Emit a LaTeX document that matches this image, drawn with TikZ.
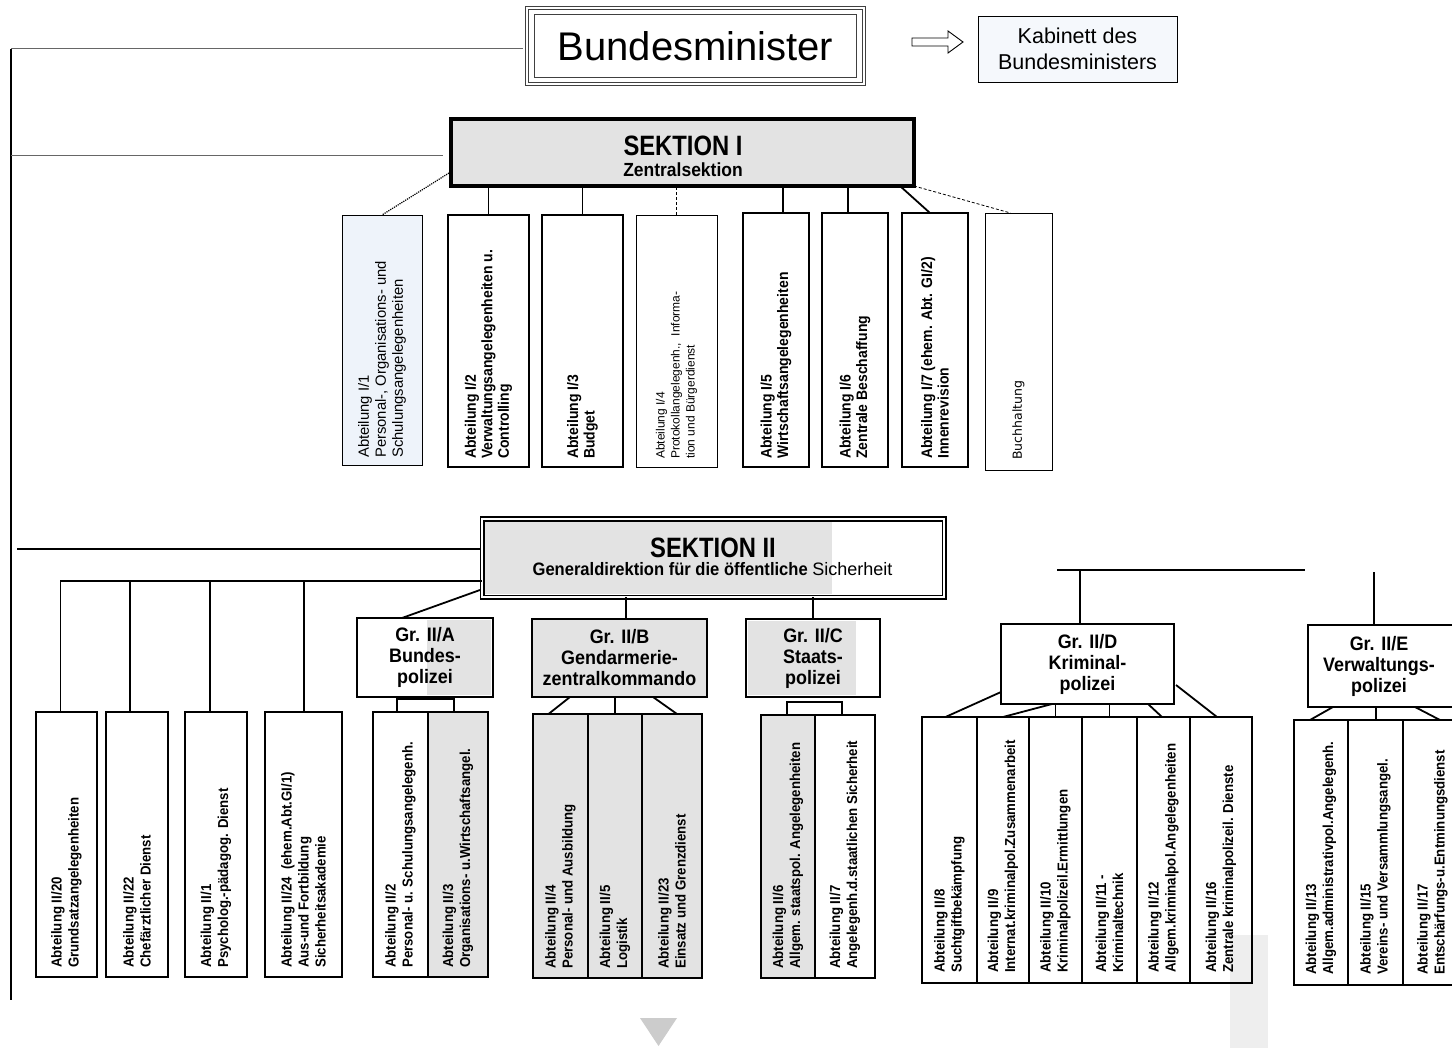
\documentclass[tikz,border=0pt]{standalone}
\usepackage{fontspec}
\setmainfont{Liberation Sans}
\newfontfamily\condsans[FakeStretch=0.92]{Liberation Sans}
\newfontfamily\headsans[FakeStretch=0.85]{Liberation Sans}
\newfontfamily\dejavu{DejaVu Sans}
\usetikzlibrary{calc}
\definecolor{paleblue}{HTML}{EEF3FA}
\definecolor{palecab}{HTML}{F5F8FC}
\definecolor{scan}{HTML}{E3E3E3}
\definecolor{barcolor}{HTML}{EEEEEE}
\definecolor{markcolor}{HTML}{CCCCCC}
% box with its top-left corner at (x1,y1) and bottom-right corner at (x2,y2)
\newcommand\orgbox[6]{\node[#2, minimum width={(#5-#3)*1pt}, minimum height={(#6-#4)*1pt}] (#1) at (#3,#4) {};}
\begin{document}
\begin{tikzpicture}[x=1pt,y=-1pt,
  box/.style={draw, inner sep=0pt, outer sep=0pt, anchor=north west},
  heavybox/.style={box, line width=2.4pt},
  unitbox/.style={box, line width=1.8pt},
  thinbox/.style={box, line width=0.9pt},
  vlab/.style={rotate=90, anchor=west, align=left, inner sep=0pt},
  toplab/.style={vlab, font=\condsans\bfseries\fontsize{15.2}{16.5}\selectfont},
  topreg/.style={vlab, font=\fontsize{14.8}{17}\selectfont},
  botlab/.style={vlab, font=\condsans\bfseries\fontsize{14.4}{17}\selectfont},
  grlab/.style={align=center, inner sep=0pt, font=\condsans\bfseries\fontsize{19.5}{21}\selectfont},
  conn/.style={line width=1.8pt},
  frame/.style={line width=1pt, black!60}]

\useasboundingbox (0,0) rectangle (1452,1048);
\fill[white] (0,0) rectangle (1452,1048);

% ---------- minister and cabinet ----------
\node[draw=black!75, double, double distance=1.6pt, line width=0.9pt,
      minimum width=337pt, minimum height=76pt, inner sep=0pt,
      font=\fontsize{40}{44}\selectfont] (bm) at (695.5,46) {Bundesminister};
\draw[black!75, line width=1.1pt] ([shift={(8pt,-7pt)}]bm.north west) rectangle ([shift={(-8pt,7pt)}]bm.south east);

\node[draw, line width=0.8pt, fill=palecab, minimum width=199pt, minimum height=66pt,
      inner sep=0pt, align=center, font=\fontsize{21.5}{26}\selectfont] (kab) at (1077.5,49)
      {Kabinett des\\Bundesministers};

% hollow pointer towards the cabinet
\draw[line width=0.9pt, line join=miter] (912,38) -- (948,38) -- (948,31) -- (963,42)
      -- (948,53) -- (948,46) -- (912,46) -- cycle;

% ---------- left frame lines ----------
\coordinate (fTop) at (11,49);
\coordinate (fBot) at (11,1000);
\coordinate (f1) at (11,156);
\coordinate (f2) at (17,549);
\draw[line width=1.3pt] (fTop) -- (fBot);
\draw[frame] (fTop) -- ($(fTop -| bm.west)+(-4,0)$);
\draw[frame] (f1) -- ($(f1 -| bm.west)+(-84,0)$);
\draw[line width=1.2pt] (f2) -- ($(f2 -| bm.west)+(-47,0)$);

% ---------- Sektion I ----------
\orgbox{s1}{box, line width=4.5pt, fill=scan}{451}{119}{914}{186}
\node[anchor=base, inner sep=0pt, font=\headsans\bfseries\fontsize{28}{30}\selectfont] (s1t) at (683,156) {SEKTION I};
\node[anchor=base, inner sep=0pt, font=\condsans\bfseries\fontsize{19}{21}\selectfont] (s1s) at (683,177) {Zentralsektion};

\orgbox{i1}{thinbox, fill=paleblue}{342}{215}{422}{465}
\orgbox{i2}{heavybox}{448}{215}{529}{467}
\orgbox{i3}{heavybox}{542}{215}{623}{467}
\orgbox{i4}{thinbox}{636}{215}{717}{467}
\orgbox{i5}{heavybox}{743}{213}{809}{467}
\orgbox{i6}{heavybox}{822}{213}{888}{467}
\orgbox{i7}{heavybox}{902}{213}{968}{467}
\orgbox{buch}{thinbox}{985}{213}{1052}{470}

\node[topreg] (i1t) at ($(i1.south)+(0,-7)$) {Abteilung I/1\\Personal-, Organisations- und\\Schulungsangelegenheiten};
\node[toplab] (i2t) at ($(i2.south)+(0,-8)$) {Abteilung I/2\\Verwaltungsangelegenheiten u.\\Controlling};
\node[toplab] (i3t) at ($(i3.south)+(0,-8)$) {Abteilung I/3\\Budget};
\node[topreg, font=\fontsize{12}{15}\selectfont] (i4t) at ($(i4.south)+(0,-8)$) {Abteilung I/4\\Protokollangelegenh.,\ \ Informa-\\tion und Bürgerdienst};
\node[toplab] (i5t) at ($(i5.south)+(0,-8)$) {Abteilung I/5\\Wirtschaftsangelegenheiten};
\node[toplab] (i6t) at ($(i6.south)+(0,-8)$) {Abteilung I/6\\Zentrale Beschaffung};
\node[toplab] (i7t) at ($(i7.south)+(0,-8)$) {Abteilung I/7 (ehem. Abt. GI/2)\\Innenrevision};
\node[vlab, font=\dejavu\fontsize{12.5}{15}\selectfont] (bucht) at ($(buch.south)+(0,-10)$) {Buchhaltung};

% connectors of Sektion I
\draw[line width=1.2pt, densely dotted] ($(s1.south west)+(-2,-13)$) -- (i1.north);
\draw[conn] (i2.north) -- (i2.north |- s1.south);
\draw[conn] (i3.north) -- (i3.north |- s1.south);
\draw[line width=0.8pt, densely dashed] (i4.north) -- (i4.north |- s1.south);
\draw[conn] ($(i5.north)+(7,0)$) -- ($(i5.north |- s1.south)+(7,0)$);
\draw[conn] ($(i6.north)+(-7,0)$) -- ($(i6.north |- s1.south)+(-7,0)$);
\draw[conn] ($(i7.north)+(-5,0)$) -- ($(s1.south east)+(-14,0)$);
\draw[line width=0.8pt, densely dashed] (s1.south east) -- ($(buch.north)+(-8,0)$);

% ---------- Sektion II ----------
\fill[scan] (485,522) rectangle (832,594);
\orgbox{s2}{box, double, double distance=2pt, line width=1.5pt}{482}{519}{944}{597}
\node[anchor=base, inner sep=0pt, font=\headsans\bfseries\fontsize{28}{30}\selectfont] (s2t) at (713,557) {SEKTION II};
\node[anchor=base, inner sep=0pt, font=\condsans\fontsize{18}{20}\selectfont] (s2s) at (712.5,575)
  {{\bfseries Generaldirektion für die öffentliche} {\normalfont\fontsize{18}{20}\selectfont Sicherheit}};

% groups
\fill[scan] (427,620) rectangle (491,695);
\fill[scan] (748,621) rectangle (856,695);
\orgbox{grA}{unitbox}{357}{618}{493}{697}
\orgbox{grB}{unitbox, fill=scan}{532}{619}{707}{697}
\orgbox{grC}{unitbox}{746}{619}{880}{697}
\orgbox{grD}{unitbox}{1001}{624}{1174}{704}
\orgbox{grE}{unitbox}{1308}{625}{1458}{707}
\node[grlab] (grAt) at (grA.center) {Gr. II/A\\Bundes-\\polizei};
\node[grlab] (grBt) at (grB.center) {Gr. II/B\\Gendarmerie-\\zentralkommando};
\node[grlab] (grCt) at (grC.center) {Gr. II/C\\Staats-\\polizei};
\node[grlab] (grDt) at (grD.center) {Gr. II/D\\Kriminal-\\polizei};
\node[grlab] (grEt) at ($(grE.center)+(-4,0)$) {Gr. II/E\\Verwaltungs-\\polizei};

% marker shapes in the lower area
\fill[barcolor] (1230,935) rectangle (1268,1048);
\fill[markcolor] (640,1018) -- (677,1018) -- (658.5,1046) -- cycle;

% departments
\orgbox{a20}{unitbox}{36}{712}{97}{977}
\orgbox{a22}{unitbox}{106}{712}{168}{977}
\orgbox{a1}{unitbox}{185}{712}{247}{977}
\orgbox{a24}{unitbox}{265}{712}{342}{977}
\orgbox{a2}{unitbox}{373}{712}{428}{977}
\orgbox{a3}{unitbox, fill=scan}{428}{712}{488}{977}
\orgbox{a4}{unitbox, fill=scan}{533}{714}{588}{978}
\orgbox{a5}{unitbox, fill=scan}{588}{714}{642}{978}
\orgbox{a23}{unitbox, fill=scan}{642}{714}{702}{978}
\orgbox{a6}{unitbox, fill=scan}{761}{715}{815}{978}
\orgbox{a7}{unitbox}{815}{715}{875}{978}
\orgbox{a8}{unitbox}{922}{717}{977}{983}
\orgbox{a9}{unitbox}{977}{717}{1029}{983}
\orgbox{a10}{unitbox}{1029}{717}{1082}{983}
\orgbox{a11}{unitbox}{1082}{717}{1137}{983}
\orgbox{a12}{unitbox}{1137}{717}{1190}{983}
\orgbox{a16}{unitbox}{1190}{717}{1252}{983}
\orgbox{a13}{unitbox}{1294}{720}{1348}{985}
\orgbox{a15}{unitbox}{1348}{720}{1403}{985}
\orgbox{a17}{unitbox}{1403}{720}{1462}{985}

\node[botlab] (a20t) at ($(a20.south)+(0,-9)$) {Abteilung II/20\\Grundsatzangelegenheiten};
\node[botlab] (a22t) at ($(a22.south)+(0,-9)$) {Abteilung II/22\\Chefärztlicher Dienst};
\node[botlab] (a1t) at ($(a1.south)+(0,-9)$) {Abteilung II/1\\Psycholog.-pädagog. Dienst};
\node[botlab] (a24t) at ($(a24.south)+(0,-9)$) {Abteilung II/24\ \ (ehem.Abt.GI/1)\\Aus-und Fortbildung\\Sicherheitsakademie};
\node[botlab] (a2t) at ($(a2.south)+(0,-9)$) {Abteilung II/2\\Personal- u. Schulungsangelegenh.};
\node[botlab] (a3t) at ($(a3.south)+(0,-9)$) {Abteilung II/3\\Organisations- u.Wirtschaftsangel.};
\node[botlab] (a4t) at ($(a4.south)+(0,-9)$) {Abteilung II/4\\Personal- und Ausbildung};
\node[botlab] (a5t) at ($(a5.south)+(0,-9)$) {Abteilung II/5\\Logistik};
\node[botlab] (a23t) at ($(a23.south)+(0,-9)$) {Abteilung II/23\\Einsatz und Grenzdienst};
\node[botlab] (a6t) at ($(a6.south)+(0,-9)$) {Abteilung II/6\\Allgem. staatspol. Angelegenheiten};
\node[botlab] (a7t) at ($(a7.south)+(0,-9)$) {Abteilung II/7\\Angelegenh.d.staatlichen Sicherheit};
\node[botlab] (a8t) at ($(a8.south)+(0,-10)$) {Abteilung II/8\\Suchtgiftbekämpfung};
\node[botlab] (a9t) at ($(a9.south)+(0,-10)$) {Abteilung II/9\\Internat.kriminalpol.Zusammenarbeit};
\node[botlab] (a10t) at ($(a10.south)+(0,-10)$) {Abteilung II/10\\Kriminalpolizeil.Ermittlungen};
\node[botlab] (a11t) at ($(a11.south)+(0,-10)$) {Abteilung II/11 -\\Kriminaltechnik};
\node[botlab] (a12t) at ($(a12.south)+(0,-10)$) {Abteilung II/12\\Allgem.kriminalpol.Angelegenheiten};
\node[botlab] (a16t) at ($(a16.south)+(0,-10)$) {Abteilung II/16\\Zentrale kriminalpolizeil. Dienste};
\node[botlab] (a13t) at ($(a13.south)+(0,-10)$) {Abteilung II/13\\Allgem.administrativpol.Angelegenh.};
\node[botlab] (a15t) at ($(a15.south)+(0,-10)$) {Abteilung II/15\\Vereins- und Versammlungsangel.};
\node[botlab] (a17t) at ($(a17.south)+(0,-10)$) {Abteilung II/17\\Entschärfungs-u.Entminungsdienst};

% connectors of Sektion II
\coordinate (bus) at (60,581);
\draw[conn] (bus) -- (bus -| s2.west);
\draw[conn] (a20.north) ++(-6,0) |- (bus);
\draw[conn] (a22.north) ++(-7,0) |- (bus);
\draw[conn] (a1.north) ++(-6,0) |- (bus);
\draw[conn] (a24.north) ++(0.5,0) |- (bus);

\draw[conn] ($(grA.north)+(-23,0)$) -- ($(s2.south west)+(-2,-7)$);
\draw[conn] ($(grB.north)+(6.5,0)$) -- ($(grB.north |- s2.south)+(6.5,0)$);
\draw[conn] (grC.north) -- (grC.north |- s2.south);

\coordinate (dT) at (1080,570);
\coordinate (eT) at (1374,572);
\draw[conn] (dT) -- (dT |- grD.north);
\draw[line width=1.4pt] ($(dT)+(-23,0)$) -- ($(dT)+(225,0)$);
\draw[conn] (eT) -- (eT |- grE.north);

% group-to-department links
\draw[conn] ($(a2.north)+(-3.5,0)$) -- ++(0,-13) -| ($(a3.north)+(-4,0)$);
\draw[conn] ($(a6.north)+(-1,0)$) -- ++(0,-13) -| ($(a7.north)+(-3,0)$);

\draw[conn] ($(a4.north)+(-12,0)$) -- ($(grB.south)+(-49.5,0)$);
\draw[conn] (a5.north) -- (a5.north |- grB.south);
\draw[conn] ($(a23.north)+(5,0)$) -- ($(grB.south)+(33.5,0)$);

\draw[conn] ($(a8.north)+(-4,0)$) -- ($(grD.south west)+(0,-12)$);
\draw[conn] (a9.north) -- ($(grD.south)+(-35.5,0)$);
\draw[conn] (a10.north) -- (a10.north |- grD.south);
\draw[conn] (a11.north) -- (a11.north |- grD.south);
\draw[conn] ($(a12.north)+(-1.5,0)$) -- ($(grD.south)+(60.5,0)$);
\draw[conn] ($(a16.north)+(-4,0)$) -- ($(grD.south east)+(2,-19)$);

\draw[conn] ($(a13.north)+(-11,0)$) -- ($(grE.south)+(-50,0)$);
\draw[conn] ($(a15.north)+(0.5,0)$) -- ($(a15.north |- grE.south)+(0.5,0)$);
\draw[conn] ($(a17.north)+(7.5,0)$) -- ($(grE.south)+(32,0)$);
\end{tikzpicture}
\end{document}
